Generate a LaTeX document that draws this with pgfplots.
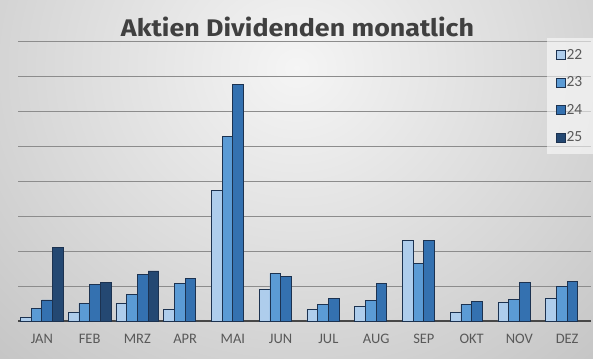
\documentclass[border=0pt]{standalone}
\usepackage{pgfplots}
\pgfplotsset{compat=1.18}
\usepackage{fontspec}
\setmainfont{Carlito}
\newfontfamily\titlefont{Fira Sans}
\usepackage{graphicx}
\definecolor{cA}{RGB}{174,205,236}
\definecolor{cB}{RGB}{91,155,213}
\definecolor{cC}{RGB}{52,113,176}
\definecolor{cD}{RGB}{36,72,114}
\definecolor{edge}{RGB}{28,50,80}
\definecolor{gridc}{RGB}{140,140,140}
\definecolor{txt}{RGB}{89,89,89}
\definecolor{ttl}{RGB}{64,64,64}
\begin{document}
\begin{tikzpicture}[x=1pt,y=1pt]
\begin{scope}
\clip (0,0) rectangle (593,358);
\shade[inner color=white!96!black, outer color=white!77!black] (-150,-120) rectangle (743,700);
\end{scope}
\node[anchor=base, text=ttl, inner sep=0pt] at (297.5,321.3) {\resizebox{353pt}{19.5pt}{\titlefont\bfseries Aktien Dividenden monatlich}};
\begin{axis}[
  at={(18pt,37pt)}, anchor=south west,
  scale only axis, width=573pt, height=280pt,
  xmin=-0.5, xmax=11.5, ymin=0, ymax=8,
  ybar=0pt, bar width=0.224,
  xtick={0,...,11},
  xticklabels={JAN,FEB,MRZ,APR,MAI,JUN,JUL,AUG,SEP,OKT,NOV,DEZ},
  xticklabel style={anchor=base, yshift=-23pt, font=\fontsize{14.5}{16}\selectfont, text=txt},
  ytick={1,...,8}, yticklabels={},
  ymajorgrids, grid style={draw=gridc, line width=0.7pt},
  major tick length=0pt,
  axis lines*=left,
  y axis line style={draw=none},
  x axis line style={draw=txt!80!black, line width=1.2pt, -},
  clip=false,
  legend style={at={(1.0035,1.0107)}, anchor=north east, draw=none, fill=white, fill opacity=0.55, text opacity=1,
    font=\fontsize{15.5}{17}\selectfont, text=txt, row sep=12pt, inner xsep=9pt, inner ysep=9pt,
    nodes={inner xsep=1.5pt}},
  legend cell align=left,
  every axis plot/.append style={draw=edge, line width=0.8pt},
]
\addplot[fill=cA, legend image code/.code={\draw[fill=cA, fill opacity=1, draw opacity=1, draw=edge, line width=0.6pt] (0pt,-4.5pt) rectangle (9pt,4.5pt);}] coordinates {(0,0.11) (1,0.25) (2,0.5) (3,0.33) (4,3.73) (5,0.9) (6,0.33) (7,0.42) (8,2.3) (9,0.25) (10,0.53) (11,0.65)};
\addplot[fill=cB, legend image code/.code={\draw[fill=cB, fill opacity=1, draw opacity=1, draw=edge, line width=0.6pt] (0pt,-4.5pt) rectangle (9pt,4.5pt);}] coordinates {(0,0.36) (1,0.5) (2,0.76) (3,1.08) (4,5.28) (5,1.36) (6,0.48) (7,0.59) (8,1.65) (9,0.48) (10,0.62) (11,0.99)};
\addplot[fill=cC, legend image code/.code={\draw[fill=cC, fill opacity=1, draw opacity=1, draw=edge, line width=0.6pt] (0pt,-4.5pt) rectangle (9pt,4.5pt);}] coordinates {(0,0.6) (1,1.05) (2,1.34) (3,1.22) (4,6.76) (5,1.28) (6,0.65) (7,1.08) (8,2.3) (9,0.57) (10,1.11) (11,1.14)};
\addplot[fill=cD, legend image code/.code={\draw[fill=cD, fill opacity=1, draw opacity=1, draw=edge, line width=0.6pt] (0pt,-4.5pt) rectangle (9pt,4.5pt);}] coordinates {(0,2.1) (1,1.09) (2,1.43)};
\legend{22,23,24,25}
\end{axis}
\pgfresetboundingbox
\useasboundingbox (0,0) rectangle (593,358);
\end{tikzpicture}
\end{document}
